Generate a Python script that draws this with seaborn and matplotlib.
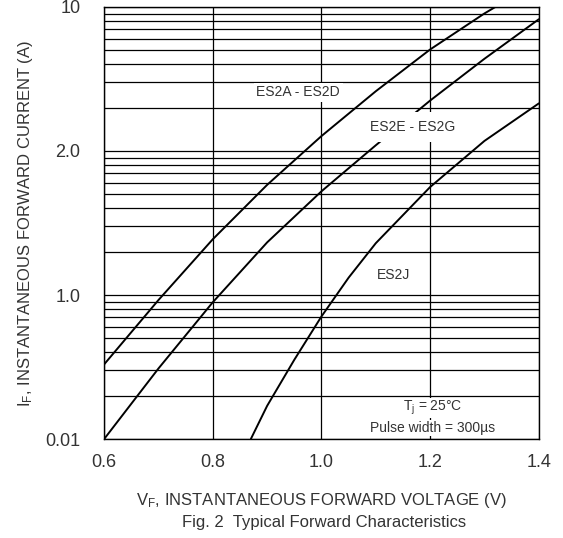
import numpy as np
import pandas as pd
import seaborn as sns
import matplotlib.pyplot as plt
from matplotlib.ticker import LogLocator, NullFormatter

# forward characteristics (volts, amps)
es2a_v = [0.60, 0.70, 0.80, 0.90, 1.00, 1.10, 1.20, 1.30, 1.32]
es2a_i = [0.033, 0.0923, 0.244, 0.582, 1.27, 2.60, 5.07, 9.02, 10.0]
es2e_v = [0.60, 0.70, 0.80, 0.90, 1.00, 1.10, 1.20, 1.30, 1.40]
es2e_i = [0.010, 0.0309, 0.0891, 0.232, 0.525, 1.096, 2.24, 4.37, 8.22]
es2j_v = [0.87, 0.90, 0.95, 1.00, 1.05, 1.10, 1.20, 1.30, 1.40]
es2j_i = [0.010, 0.017, 0.0355, 0.071, 0.132, 0.229, 0.562, 1.175, 2.14]

x_ticks = [0.6, 0.8, 1.0, 1.2, 1.4]
x_tick_labels = ["0.6", "0.8", "1.0", "1.2", "1.4"]
y_ticks = [0.01, 0.1, 1, 10]
y_tick_labels = ["0.01", "1.0", "2.0", "10"]

df = pd.concat([
    pd.DataFrame({"V": es2a_v, "I": es2a_i, "device": "ES2A - ES2D"}),
    pd.DataFrame({"V": es2e_v, "I": es2e_i, "device": "ES2E - ES2G"}),
    pd.DataFrame({"V": es2j_v, "I": es2j_i, "device": "ES2J"}),
])

sns.set_style("white")
plt.rcParams["font.family"] = ["Liberation Sans", "DejaVu Sans"]
plt.rcParams["mathtext.fontset"] = "custom"
plt.rcParams["mathtext.rm"] = "Liberation Sans"
plt.rcParams["mathtext.it"] = "Liberation Sans:italic"

txt = "#333333"
fig = plt.figure(figsize=(5.63, 5.38), dpi=100)
ax = fig.add_axes([0.185, 0.184, 0.772, 0.803])

ax.set_yscale("log")
sns.lineplot(data=df, x="V", y="I", hue="device", palette=["black"] * 3,
             estimator=None, sort=False, legend=False, linewidth=1.4, ax=ax, zorder=2)

ax.set_xlim(0.6, 1.4)
ax.set_ylim(0.01, 10)
ax.set_xticks(x_ticks)
ax.set_xticklabels(x_tick_labels)
ax.set_yticks(y_ticks)
ax.set_yticklabels(y_tick_labels)
ax.yaxis.set_minor_locator(LogLocator(base=10, subs=np.arange(2, 10)))
ax.yaxis.set_minor_formatter(NullFormatter())
ax.tick_params(which="both", length=0, labelsize=13, colors=txt)
ax.tick_params(axis="y", pad=17)
ax.tick_params(axis="x", pad=11)

ax.grid(which="both", axis="y", color="black", linewidth=0.9)
ax.grid(which="major", axis="x", color="black", linewidth=0.9)
ax.set_axisbelow(True)
for s in ax.spines.values():
    s.set_color("black")
    s.set_linewidth(1.0)

ax.set_xlabel(r"V$\mathregular{_F}$, INSTANTANEOUS FORWARD VOLTAGE (V)",
              fontsize=12, color=txt, labelpad=14)
ax.set_ylabel(r"I$\mathregular{_F}$, INSTANTANEOUS FORWARD CURRENT (A)",
              fontsize=12, color=txt)
ax.yaxis.set_label_coords(-0.158, 0.5)

ax.text(0.957, 2.55, "ES2A - ES2D", ha="center", va="center", fontsize=10, color=txt,
        bbox=dict(boxstyle="square,pad=0.2", fc="white", ec="none"), zorder=4)
ax.text(1.168, 1.47, "ES2E - ES2G", ha="center", va="center", fontsize=10, color=txt,
        bbox=dict(boxstyle="square,pad=0.55", fc="white", ec="none"), zorder=4)
ax.text(1.132, 0.137, "ES2J", ha="center", va="center", fontsize=10, color=txt, zorder=4)
small_box = dict(boxstyle="square,pad=0.08", fc="white", ec="none")
ax.text(1.205, 0.0164, "T$\\mathregular{_j}$ = 25°C", ha="center", va="center",
        fontsize=10, color=txt, bbox=small_box, zorder=4)
ax.text(1.205, 0.0119, "Pulse width = 300µs", ha="center", va="center",
        fontsize=10, color=txt, bbox=small_box, zorder=4)

fig.text(0.575, 0.02, "Fig. 2  Typical Forward Characteristics", ha="center", fontsize=12, color=txt)

fig.savefig("out.png", dpi=100)
